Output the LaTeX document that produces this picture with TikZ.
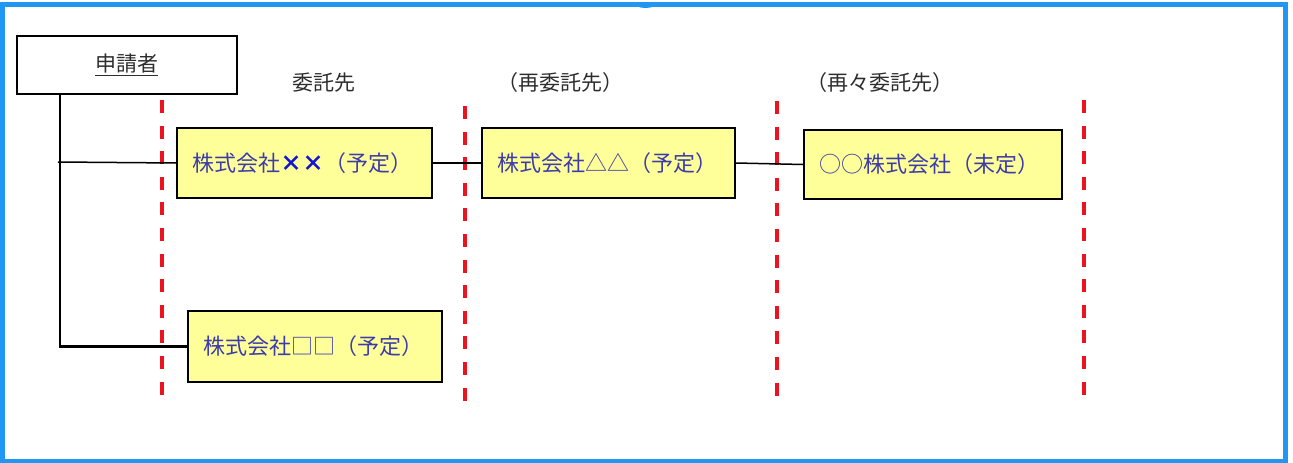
\documentclass[tikz,border=0pt]{standalone}
\usepackage{fontspec}
\newfontfamily\jp{Noto Sans CJK JP}
\definecolor{frameblue}{RGB}{33,150,243}
\definecolor{boxfill}{RGB}{255,255,153}
\definecolor{boxtext}{RGB}{60,60,170}
\definecolor{xblue}{RGB}{20,20,210}
\definecolor{lbl}{RGB}{45,45,45}
\definecolor{dashred}{RGB}{235,20,30}
\tikzset{
  company/.style={draw=black, line width=2pt, fill=boxfill, minimum height=70pt,
    inner xsep=15pt, align=left, text=boxtext, anchor=north west,
    font=\jp\fontsize{22}{26}\selectfont},
  applbox/.style={draw=black, line width=1.8pt, fill=white, minimum width=220pt,
    minimum height=58pt, anchor=north west, text=lbl, font=\jp\fontsize{21}{25}\selectfont},
  tier/.style={text=lbl, font=\jp\fontsize{21}{25}\selectfont},
  sep/.style={draw=dashred, line width=3.2pt, dash pattern=on 13pt off 12.6pt},
  link/.style={draw=black, line width=1.5pt},
  trunk/.style={draw=black, line width=2.2pt},
}
\begin{document}
\begin{tikzpicture}[x=1pt, y=-1pt]
\useasboundingbox (0,0) rectangle (1293,463);
% frame
\draw[frameblue, line width=5pt] (2.5,4.5) rectangle (1285.5,461);
\fill[frameblue] (633,2) arc[start angle=180, end angle=360, x radius=12.5pt, y radius=6pt] -- cycle;
% separators
\draw[sep] (162,100) -- (162,400);
\draw[sep] (465,106) -- (465,404);
\draw[sep] (777,101) -- (777,400);
\draw[sep] (1084,100) -- (1084,400);
% tier labels
\node[tier] (l1) at (324,83) {委託先};
\node[tier] (l2) at (560,83) {（再委託先）};
\node[tier] (l3) at (880,83) {（再々委託先）};
% applicant
\node[applbox] (appl) at (16,35) {\underline{申請者}};
% companies
\node[company, text width=225pt] (c1) at (176,127) {株式会社{\bfseries\color{xblue}××}（予定）};
\node[company, text width=223pt] (c2) at (481,127) {株式会社△△（予定）};
\node[company, text width=228pt, minimum height=69pt] (c3) at (803,129) {○○株式会社（未定）};
\node[company, text width=224pt, minimum height=71pt] (c4) at (187,310) {株式会社□□（予定）};
% connectors
\coordinate (j1) at (58,162);
\draw[trunk] ([xshift=44pt]appl.south west) |- (c4.west);
\draw[link] (j1) -- (c1.west);
\draw[link] (c1.east) -- (c2.west);
\draw[link] (c2.east) -- (c3.west);
\end{tikzpicture}
\end{document}
